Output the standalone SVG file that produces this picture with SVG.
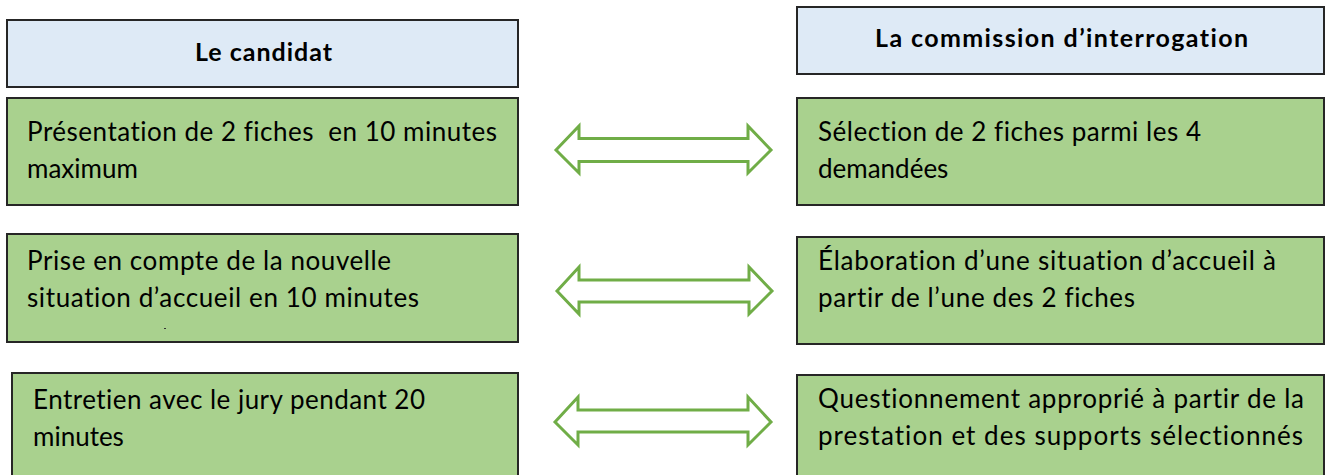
<svg xmlns="http://www.w3.org/2000/svg" width="1333" height="475" viewBox="0 0 1333 475">
<style>
.hdr{fill:#DEEAF6;stroke:#262626;stroke-width:2}
.box{fill:#A9D18E;stroke:#262626;stroke-width:2}
.ht{font-family:Lato,"Liberation Sans",sans-serif;font-weight:bold;font-size:25px;fill:#000;font-variant-ligatures:none}
.t{font-family:Lato,"Liberation Sans",sans-serif;font-size:26px;fill:#000;white-space:pre;font-variant-ligatures:none}
.arr{fill:#fff;stroke:#70AD47;stroke-width:3;stroke-linejoin:miter}
</style>
<rect width="1333" height="475" fill="#fff"/>
<g id="hdr-candidat"><rect class="hdr" x="7" y="20" width="511" height="67"/><text class="ht" x="195" y="61" textLength="137">Le candidat</text></g>
<g id="hdr-commission"><rect class="hdr" x="797" y="7" width="527" height="67"/><text class="ht" x="875" y="47" textLength="373">La commission d’interrogation</text></g>
<g id="c1"><rect class="box" x="7" y="98" width="511" height="107"/><text class="t" x="27" y="141" textLength="470" xml:space="preserve">Présentation de 2 fiches  en 10 minutes</text><text class="t" x="27" y="178">maximum</text></g>
<g id="c2"><rect class="box" x="7" y="234" width="511" height="108"/><text class="t" x="27" y="270" textLength="364">Prise en compte de la nouvelle</text><text class="t" x="27" y="307" textLength="392">situation d’accueil en 10 minutes</text><rect x="164" y="328" width="2" height="1" fill="#333"/></g>
<g id="c3"><rect class="box" x="12" y="373" width="506" height="110"/><text class="t" x="33" y="409" textLength="392">Entretien avec le jury pendant 20</text><text class="t" x="33" y="446">minutes</text></g>
<g id="j1"><rect class="box" x="797" y="98" width="527" height="107"/><text class="t" x="818" y="141" textLength="383">Sélection de 2 fiches parmi les 4</text><text class="t" x="818" y="178">demandées</text></g>
<g id="j2"><rect class="box" x="797" y="237" width="527" height="107"/><text class="t" x="818" y="270" textLength="458">Élaboration d’une situation d’accueil à</text><text class="t" x="818" y="307" textLength="317">partir de l’une des 2 fiches</text></g>
<g id="j3"><rect class="box" x="797" y="375" width="527" height="110"/><text class="t" x="818" y="408" textLength="486">Questionnement approprié à partir de la</text><text class="t" x="818" y="445" textLength="485">prestation et des supports sélectionnés</text></g>
<g id="connectors">
<path class="arr" d="M556 150 L579 126 L579 138.5 L748 138.5 L748 126 L771 150 L748 173 L748 161.5 L579 161.5 L579 173 Z"/>
<path class="arr" d="M557 291 L579 267 L579 280 L749 280 L749 267 L772 291 L749 314 L749 302 L579 302 L579 314 Z"/>
<path class="arr" d="M555 422 L578 397 L578 410 L748 410 L748 397 L771 422 L748 445 L748 432 L578 432 L578 445 Z"/>
</g>
</svg>
